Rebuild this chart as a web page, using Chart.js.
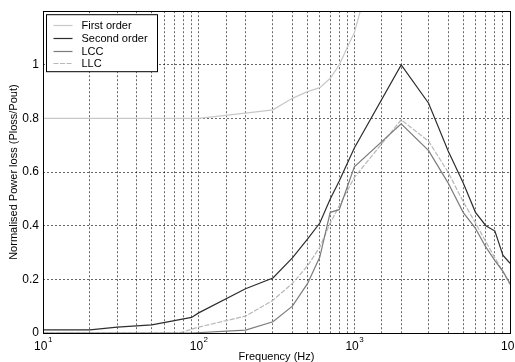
<!DOCTYPE html>
<html>
<head>
<meta charset="utf-8">
<script src="https://cdn.jsdelivr.net/npm/chart.js@4.4.0/dist/chart.umd.min.js"></script>
<style>
  html, body { margin: 0; background: #fff; }
</style>
</head>
<body>
<canvas id="lossChart" width="515" height="362"></canvas>
<script>
const FONT = "'Liberation Sans', Arial, Helvetica, sans-serif";

// frequencies (Hz) and normalised loss for each filter type
const firstFreq = [10, 100, 200, 300, 400, 500, 600, 700, 800, 900, 1000, 2000];
const firstOrder = [0.8, 0.8, 0.82, 0.832, 0.875, 0.9, 0.915, 0.95, 1.0, 1.065, 1.12, 1.75];

const secondFreq = [10, 20, 30, 50, 90, 100, 200, 300, 400, 500, 600, 700, 800, 1000, 2000, 3000, 4000, 5000, 6000, 7000, 8000, 9000, 10000];
const secondOrder = [0.012, 0.012, 0.022, 0.03, 0.058, 0.075, 0.165, 0.205, 0.28, 0.35, 0.41, 0.5, 0.567, 0.69, 1.0, 0.857, 0.68, 0.56, 0.45, 0.40, 0.38, 0.29, 0.26];

const lccFreq = [10, 90, 200, 300, 400, 500, 600, 700, 800, 1000, 2000, 3000, 4000, 5000, 6000, 7000, 8000, 9000, 10000];
const lcc = [0, 0, 0.011, 0.042, 0.1, 0.184, 0.283, 0.45, 0.46, 0.62, 0.78, 0.68, 0.56, 0.45, 0.39, 0.32, 0.27, 0.23, 0.185];

const llcFreq = [10, 75, 100, 200, 300, 400, 500, 600, 700, 800, 1000, 2000, 3000, 4000, 5000, 6000, 7000, 8000, 9000, 10000];
const llc = [0, 0, 0.022, 0.063, 0.122, 0.185, 0.25, 0.32, 0.41, 0.474, 0.58, 0.795, 0.715, 0.6, 0.49, 0.41, 0.34, 0.28, 0.23, 0.18];

const decades = [10, 100, 1000, 10000];

function pts(xs, ys) {
  return xs.map((x, i) => ({ x: x, y: ys[i] }));
}

function series(label, xs, ys, color, dash) {
  return {
    label: label,
    data: pts(xs, ys),
    borderColor: color,
    borderWidth: 1.2,
    borderDash: dash || [],
    pointRadius: 0,
    tension: 0,
    fill: false
  };
}

// box round the plot, legend in the top left corner, 10^n labels
const decor = {
  id: "decor",
  afterDraw(chart) {
    const ctx = chart.ctx;
    const a = chart.chartArea;
    ctx.save();
    ctx.strokeStyle = "#000";
    ctx.lineWidth = 1;
    ctx.setLineDash([]);
    ctx.strokeRect(Math.round(a.left) + 0.5, Math.round(a.top) + 0.5,
      Math.round(a.right - a.left), Math.round(a.bottom - a.top));

    // legend
    const lx = a.left + 3.5, ly = a.top + 3.5;
    ctx.fillStyle = "#fff";
    ctx.fillRect(lx, ly, 111, 57);
    ctx.strokeRect(lx, ly, 111, 57);
    ctx.font = "11px " + FONT;
    ctx.textBaseline = "middle";
    ctx.textAlign = "left";
    chart.data.datasets.forEach((ds, i) => {
      const y = Math.round(ly + 10.5 + i * 12.7) + 0.5;
      ctx.strokeStyle = ds.borderColor;
      ctx.lineWidth = 1.2;
      ctx.setLineDash(ds.borderDash);
      ctx.beginPath();
      ctx.moveTo(lx + 7, y);
      ctx.lineTo(lx + 26, y);
      ctx.stroke();
      ctx.setLineDash([]);
      ctx.fillStyle = "#000";
      ctx.fillText(ds.label, lx + 35, y);
    });

    // x tick labels as 10 with a raised exponent
    const xs = chart.scales.x;
    ctx.textBaseline = "alphabetic";
    decades.forEach(v => {
      const px = xs.getPixelForValue(v);
      const exp = String(Math.round(Math.log10(v)));
      ctx.font = "12px " + FONT;
      const w1 = ctx.measureText("10").width;
      ctx.font = "8px " + FONT;
      const w2 = ctx.measureText(exp).width;
      const x0 = px - (w1 + w2) / 2;
      ctx.font = "12px " + FONT;
      ctx.fillText("10", x0, a.bottom + 17);
      ctx.font = "8px " + FONT;
      ctx.fillText(exp, x0 + w1 + 0.5, a.bottom + 9);
    });
    ctx.restore();
  }
};

new Chart(document.getElementById("lossChart"), {
  type: "line",
  data: {
    datasets: [
      series("First order", firstFreq, firstOrder, "#c8c8c8"),
      series("Second order", secondFreq, secondOrder, "#2e2e2e"),
      series("LCC", lccFreq, lcc, "#7c7c7c"),
      series("LLC", llcFreq, llc, "#b8b8b8", [5, 1.5])
    ]
  },
  options: {
    responsive: false,
    animation: false,
    layout: { padding: { top: 9, right: 5, left: 0, bottom: 0 } },
    plugins: {
      legend: { display: false },
      tooltip: { enabled: false }
    },
    scales: {
      x: {
        type: "logarithmic",
        min: 10,
        max: 10000,
        grid: { color: "rgba(0,0,0,0.6)", lineWidth: 1, drawTicks: false },
        border: { display: false, dash: [2, 2] },
        ticks: { display: false },
        title: {
          display: true,
          text: "Frequency (Hz)",
          color: "#000",
          font: { family: FONT, size: 11 },
          padding: { top: 0, bottom: -2 }
        },
        afterFit(scale) { scale.height = 29; }
      },
      y: {
        min: 0,
        max: 1.2,
        grid: { color: "rgba(0,0,0,0.6)", lineWidth: 1, drawTicks: false },
        border: { display: false, dash: [2, 2] },
        ticks: {
          stepSize: 0.2,
          padding: 4,
          color: "#000",
          font: { family: FONT, size: 12 },
          callback: v => (v > 1.1 ? "" : String(+v.toFixed(1)))
        },
        title: {
          display: true,
          text: "Normalised Power loss (Ploss/Pout)",
          color: "#000",
          font: { family: FONT, size: 11 },
          padding: { top: 7, bottom: 0 }
        },
        afterFit(scale) { scale.width = 43; }
      }
    }
  },
  plugins: [decor]
});
</script>
</body>
</html>
